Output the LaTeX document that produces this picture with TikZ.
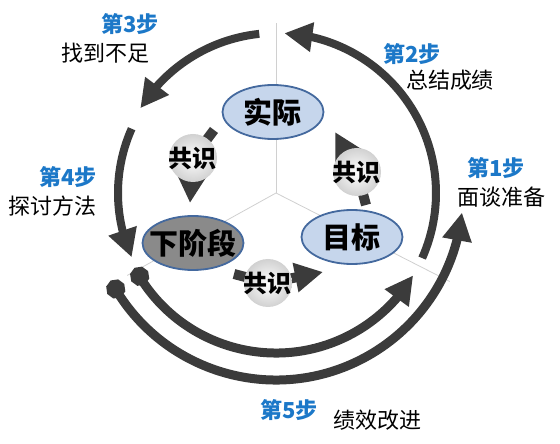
\documentclass[tikz,border=0pt]{standalone}
\usepackage{fontspec}
\usepackage{xcolor}
\usetikzlibrary{arrows.meta,bending,shapes.geometric}
\newfontfamily\cjk{Noto Sans CJK SC}
\definecolor{ringgrey}{HTML}{3B3B3B}
\definecolor{stageline}{HTML}{44699E}
\definecolor{stagefill}{HTML}{C6D6EC}
\definecolor{nextfill}{HTML}{8A8A8A}
\definecolor{stepblue}{HTML}{1C78C8}
\definecolor{spokegrey}{HTML}{D0D0D0}

\begin{document}
\begin{tikzpicture}[x=1pt,y=1pt,
		stage/.style={ellipse, draw=stageline, line width=1.8pt, fill=stagefill, minimum width=101pt, minimum height=54pt, inner sep=0pt, font=\cjk\bfseries\fontsize{29}{29}\selectfont},
		bubble/.style={circle, minimum size=48pt, inner sep=0pt, shading=radial, inner color=white, outer color=black!18, font=\cjk\bfseries\fontsize{24}{24}\selectfont},
		stepno/.style={font=\cjk\bfseries\fontsize{22}{22}\selectfont, text=stepblue, inner sep=0pt},
		steptext/.style={font=\cjk\fontsize{22}{22}\selectfont, inner sep=0pt},
		ring/.style={line width=8pt, draw=ringgrey, -{Triangle[length=28pt,width=28pt]}},
		loopline/.style={line width=9pt, draw=ringgrey, {Circle[length=19pt]}-{Triangle[length=28pt,width=28pt]}},
		gsarrow/.style={line width=10pt, draw=ringgrey, -{Triangle[length=28pt,width=28pt]}},
		thinline/.style={draw=spokegrey, line width=0.8pt}]
		\useasboundingbox (-276,-251) rectangle (284,193);

		% spokes
		\coordinate (c) at (0,0);
		\coordinate (up) at (90:170);
		\coordinate (ll) at (209:170);
		\coordinate (lr) at (-27:195);
		\draw[thinline] (c) -- (up);
		\draw[thinline] (c) -- (ll);
		\draw[thinline] (c) -- (lr);

		% outer ring
		\coordinate (r2) at (-24:160);
		\coordinate (r3) at (96:160);
		\coordinate (r4) at (156:158);
		\coordinate (l1) at (208:160);
		\coordinate (l2) at (208:187);
		\draw[ring] (r2) arc[start angle=-24, end angle=87, radius=160];
		\draw[ring] (r3) arc[start angle=96, end angle=148, radius=160];
		\draw[ring] (r4) arc[start angle=156, end angle=204, radius=158];
		\draw[loopline] (l1) arc[start angle=208, end angle=329, radius=160];
		\draw[loopline] (l2) arc[start angle=208, end angle=354, radius=187];

		% stages
		\node[stage] (sj) at (-3,81) {\makebox[0pt]{实际}};
		\node[stage, fill=nextfill] (xjd) at (-83,-50) {\makebox[0pt]{下阶段}};
		\node[stage] (mb) at (76,-44) {\makebox[0pt]{目标}};

		% consensus arrows
		\coordinate (q1) at (-62,63); \coordinate (b1) at (-83,35); \coordinate (t1) at (-86,-10);
		\coordinate (q2) at (90,-12); \coordinate (b2) at (81,21);  \coordinate (t2) at (59,61);
		\coordinate (q3) at (-42,-81); \coordinate (b3) at (-8,-90); \coordinate (t3) at (47,-79);
		\draw[gsarrow] (q1) -- (b1) -- (t1);
		\draw[gsarrow] (q2) -- (b2) -- (t2);
		\draw[gsarrow] (q3) -- (b3) -- (t3);
		\node[bubble] (gs1) at (b1) {\makebox[0pt]{共识}};
		\node[bubble] (gs2) at (b2) {\makebox[0pt]{共识}};
		\node[bubble] (gs3) at (b3) {\makebox[0pt]{共识}};

		% labels
		\node[stepno] (n3) at (-146,169) {第3步};
		\node[steptext] (d3) at (-170,140) {找到不足};
		\node[stepno] (n4) at (-208,16) {第4步};
		\node[steptext] (d4) at (-223,-13) {探讨方法};
		\node[stepno] (n2) at (136,139) {第2步};
		\node[steptext] (d2) at (174,113) {总结成绩};
		\node[stepno] (n1) at (220,25) {第1步};
		\node[steptext] (d1) at (225,-4) {面谈准备};
		\node[stepno] (n5) at (13,-217) {第5步};
		\node[steptext] (d5) at (102,-227) {绩效改进};
	\end{tikzpicture}
\end{document}
